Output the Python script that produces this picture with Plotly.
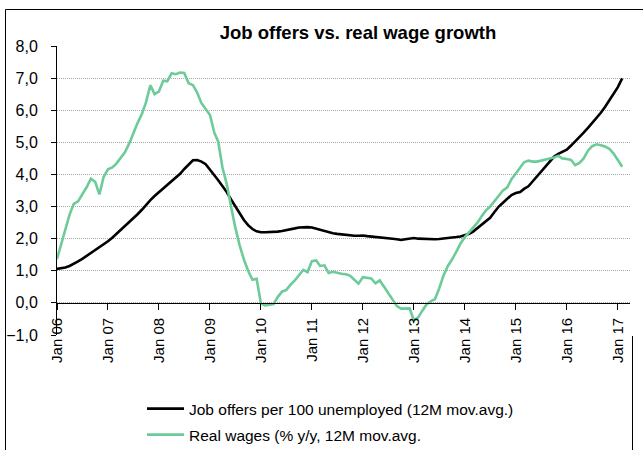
import pandas as pd
import plotly.graph_objects as go

# Monthly observations, Jan 2006 - Feb 2017
months = pd.date_range("2006-01-01", periods=134, freq="MS")

job_offers = [
    1.06, 1.08, 1.10, 1.15, 1.21, 1.29, 1.37, 1.46, 1.55, 1.65, 1.74, 1.82,
    1.92, 2.03, 2.14, 2.26, 2.38, 2.50, 2.63, 2.76, 2.90, 3.06, 3.20, 3.33,
    3.45, 3.55, 3.67, 3.80, 3.90, 4.02, 4.17, 4.30, 4.44, 4.45, 4.40, 4.32,
    4.16, 3.98, 3.82, 3.63, 3.45, 3.22, 3.00, 2.78, 2.58, 2.42, 2.30, 2.23,
    2.20, 2.20, 2.20, 2.21, 2.22, 2.24, 2.26, 2.29, 2.32, 2.35, 2.36, 2.36,
    2.35, 2.31, 2.27, 2.23, 2.20, 2.17, 2.15, 2.13, 2.12, 2.10, 2.09, 2.09,
    2.10, 2.08, 2.07, 2.06, 2.05, 2.04, 2.02, 2.00, 1.98, 1.96, 1.98, 2.00,
    2.02, 2.00, 1.99, 1.98, 1.97, 1.98, 1.99, 2.00, 2.02, 2.04, 2.05, 2.07,
    2.10, 2.15, 2.22, 2.33, 2.42, 2.53, 2.65, 2.83, 3.00, 3.12, 3.25, 3.36,
    3.42, 3.45, 3.55, 3.63, 3.78, 3.94, 4.10, 4.26, 4.42, 4.55, 4.64, 4.70,
    4.77, 4.90, 5.02, 5.15, 5.30, 5.45, 5.60, 5.75, 5.92, 6.10, 6.30, 6.50,
    6.72, 6.99,
]

real_wages = [
    1.37, 1.85, 2.35, 2.75, 3.08, 3.16, 3.38, 3.60, 3.87, 3.77, 3.38, 3.92,
    4.16, 4.22, 4.33, 4.52, 4.68, 4.95, 5.28, 5.60, 5.88, 6.25, 6.78, 6.50,
    6.58, 6.92, 6.90, 7.15, 7.12, 7.17, 7.16, 6.84, 6.78, 6.55, 6.22, 6.05,
    5.85, 5.30, 5.02, 4.20, 3.70, 3.00, 2.35, 1.80, 1.35, 1.00, 0.72, 0.75,
    -0.02, -0.08, -0.07, -0.04, 0.18, 0.35, 0.40, 0.57, 0.70, 0.85, 1.03, 0.96,
    1.30, 1.32, 1.15, 1.17, 0.93, 0.97, 0.93, 0.91, 0.89, 0.85, 0.72, 0.60,
    0.80, 0.78, 0.76, 0.61, 0.70, 0.50, 0.30, 0.12, -0.10, -0.18, -0.18, -0.17,
    -0.55, -0.45, -0.25, -0.05, 0.05, 0.12, 0.45, 0.85, 1.15, 1.35, 1.60, 1.85,
    2.05, 2.20, 2.36, 2.50, 2.70, 2.88, 3.00, 3.18, 3.35, 3.50, 3.60, 3.85,
    4.03, 4.22, 4.38, 4.43, 4.40, 4.40, 4.43, 4.45, 4.50, 4.53, 4.58, 4.50,
    4.48, 4.45, 4.29, 4.36, 4.50, 4.74, 4.88, 4.94, 4.91, 4.87, 4.80, 4.65,
    4.45, 4.24,
]

tick_dates = pd.date_range("2006-01-01", "2017-01-01", freq="YS")
tick_labels = [d.strftime("Jan %y") for d in tick_dates]

series_names = [
    "Job offers per 100 unemployed (12M mov.avg.)",
    "Real wages (% y/y, 12M mov.avg.",
]

FONT = "Arial, Liberation Sans, sans-serif"
W, H = 643, 450
ML, MR, MT, MB = 57, 13, 46, 115
PW, PH = W - ML - MR, H - MT - MB
Y_MIN, Y_MAX = -1, 8


def px_x(px):
    return (px - ML) / PW


def px_y(py):
    return (H - MB - py) / PH


fig = go.Figure()
fig.add_trace(go.Scatter(
    x=months, y=job_offers, mode="lines", name=series_names[0],
    line=dict(color="#000000", width=2.6), legend="legend",
))
fig.add_trace(go.Scatter(
    x=months, y=real_wages, mode="lines", name=series_names[1],
    line=dict(color="#6CCB98", width=2.6), legend="legend2",
))

# outer frame of the chart
frame = dict(type="line", xref="paper", yref="paper",
             line=dict(color="#000000", width=1))
fig.add_shape(**frame, x0=px_x(5.5), x1=px_x(5.5), y0=px_y(9.5), y1=px_y(460))
fig.add_shape(**frame, x0=px_x(5.5), x1=px_x(650), y0=px_y(9.5), y1=px_y(9.5))
fig.add_shape(**frame, x0=px_x(632.5), x1=px_x(632.5), y0=px_y(336), y1=px_y(460))

legend_style = dict(
    xanchor="left", yanchor="top", xref="paper", yref="paper",
    font=dict(family=FONT, size=15.5, color="#000000"),
    bgcolor="rgba(0,0,0,0)", itemwidth=37,
)

fig.update_layout(
    width=W, height=H,
    margin=dict(l=ML, r=MR, t=MT, b=MB, autoexpand=False),
    paper_bgcolor="white", plot_bgcolor="white",
    separators=",.",
    font=dict(family=FONT, color="#000000", size=15),
    title=dict(
        text="<b>Job offers vs. real wage growth</b>",
        font=dict(family=FONT, size=18.5, color="#000000"),
        x=358 / W, xref="container", xanchor="center",
        y=1 - 33 / H, yref="container", yanchor="middle",
    ),
    showlegend=True,
    legend=dict(x=px_x(142), y=px_y(392), **legend_style),
    legend2=dict(x=px_x(142), y=px_y(418), **legend_style),
    xaxis=dict(
        type="date",
        range=["2006-01-01", "2017-03-29"],
        tickvals=list(tick_dates), ticktext=tick_labels,
        tickangle=-90, tickfont=dict(family=FONT, size=15, color="#000000"),
        ticks="outside", ticklen=6, tickcolor="#000000", tickwidth=1,
        ticklabelstandoff=2,
        showline=True, linecolor="#000000", linewidth=1,
        showgrid=False, zeroline=False,
        anchor="free", position=(0 - Y_MIN) / (Y_MAX - Y_MIN),
    ),
    yaxis=dict(
        range=[Y_MIN, Y_MAX], dtick=1, tick0=0, tickformat=".1f",
        tickfont=dict(family=FONT, size=16, color="#000000"),
        ticks="outside", ticklen=5, tickcolor="#000000", tickwidth=1,
        ticklabelstandoff=10,
        showline=True, linecolor="#000000", linewidth=1,
        showgrid=True, gridcolor="#A8A8A8", griddash="1px,1px", gridwidth=1,
        zeroline=False,
    ),
)

fig.write_html("out.html")
